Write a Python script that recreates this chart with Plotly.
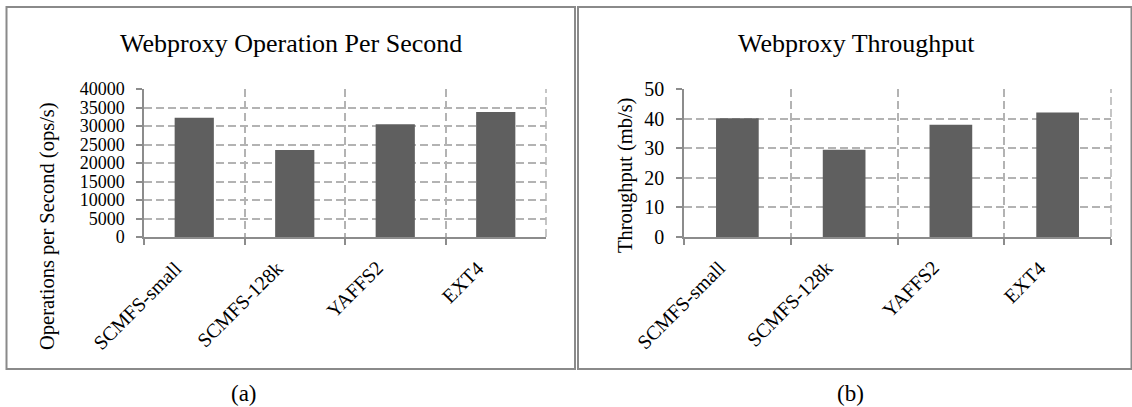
import plotly.graph_objects as go

# Benchmark results for the webproxy workload
systems = ["SCMFS-small", "SCMFS-128k", "YAFFS2", "EXT4"]
ops_per_sec = [32200, 23500, 30500, 33800]
throughput_mbs = [40.1, 29.5, 37.9, 42.1]

W, H = 1132, 407
FONT = "Liberation Serif"
BAR = "#5f5f5f"
GRID = "#b3b3b3"
AXIS = "#8c8c8c"
FRAME = "#8a8a8a"


def px(x):
    return x / W


def py(y):
    return 1 - y / H


fig = go.Figure()
fig.add_trace(go.Bar(x=systems, y=ops_per_sec, marker=dict(color=BAR, line=dict(width=0)),
                     width=0.39, xaxis="x", yaxis="y", showlegend=False))
fig.add_trace(go.Bar(x=systems, y=throughput_mbs, marker=dict(color=BAR, line=dict(width=0)),
                     width=0.4, xaxis="x2", yaxis="y2", showlegend=False))

xaxis_common = dict(
    type="category", tickson="boundaries", ticks="outside", ticklen=6, tickcolor=AXIS,
    tickwidth=1.5, showline=True, linecolor=AXIS, linewidth=1.5,
    showgrid=True, gridcolor=GRID, griddash="8px,4px", gridwidth=1.5,
    showticklabels=False,
    range=[-0.5, 3.5], fixedrange=True, automargin=False,
)
yaxis_common = dict(
    ticks="outside", ticklen=6, tickcolor=AXIS, tickwidth=1.5,
    showline=True, linecolor=AXIS, linewidth=1.5,
    showgrid=True, gridcolor=GRID, griddash="8px,4px", gridwidth=1.5,
    zeroline=False, tickfont=dict(family=FONT, size=18, color="#000"),
    ticklabelstandoff=8,
    tickformat="d", fixedrange=True, automargin=False,
)

y_top, y_bot = py(89), py(237)
fig.update_layout(
    template="none",
    width=W, height=H,
    margin=dict(l=0, r=0, t=0, b=0),
    paper_bgcolor="white", plot_bgcolor="white",
    xaxis=dict(domain=[px(144), px(546)], anchor="y", **xaxis_common),
    yaxis=dict(domain=[y_bot, y_top], anchor="x", range=[0, 40000], dtick=5000, **yaxis_common),
    xaxis2=dict(domain=[px(684), px(1111)], anchor="y2", **xaxis_common),
    yaxis2=dict(domain=[y_bot, y_top], anchor="x2", range=[0, 50], dtick=10,
                **{**yaxis_common, "tickfont": dict(family=FONT, size=20, color="#000")}),
    font=dict(family=FONT, color="#000"),
)

# Slanted category labels under each plot
for xr, yr in [("x", "y"), ("x2", "y2")]:
    for name in systems:
        fig.add_annotation(x=name, y=0, xref=xr, yref=yr, text=name, showarrow=False,
                           textangle=-45, xanchor="right", yanchor="top",
                           xshift=-5, yshift=-17,
                           font=dict(family=FONT, size=20, color="#000"))

# Right-hand dashed edge of each plot area
for xr, yr in [("x", "y"), ("x2", "y2")]:
    fig.add_shape(type="line", xref=f"{xr} domain", yref=f"{yr} domain",
                  x0=1, x1=1, y0=0, y1=1,
                  line=dict(color=GRID, width=1.5, dash="8px,4px"), layer="below")

# Panel frames
for x0, x1 in [(6.5, 575), (578, 1131.5)]:
    fig.add_shape(type="rect", xref="paper", yref="paper",
                  x0=px(x0), x1=px(x1), y0=py(369), y1=py(7),
                  line=dict(color=FRAME, width=2), layer="below")

# Titles, axis titles and panel captions
texts = [
    (291, 43, "Webproxy Operation Per Second", 26, 0),
    (856, 43, "Webproxy Throughput", 26, 0),
    (47, 226, "Operations per Second (ops/s)", 20.5, -90),
    (625, 176, "Throughput (mb/s)", 20.5, -90),
    (244, 393, "(a)", 23, 0),
    (850, 393, "(b)", 23, 0),
]
for x, y, t, s, ang in texts:
    fig.add_annotation(x=px(x), y=py(y), xref="paper", yref="paper", text=t,
                       showarrow=False, textangle=ang, xanchor="center", yanchor="middle",
                       font=dict(family=FONT, size=s, color="#000"))

fig.write_html("out.html")
